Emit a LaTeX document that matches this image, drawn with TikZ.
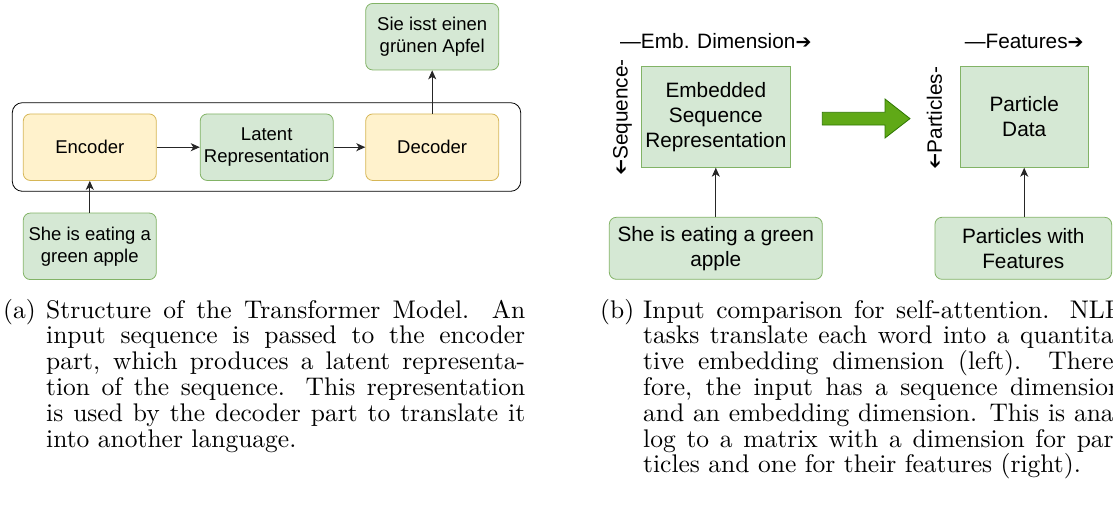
\documentclass[tikz,border=0pt]{standalone}
\usepackage{fontspec}
\newfontfamily\arial{Liberation Sans}
\newfontfamily\dejavu{DejaVu Sans}
\newfontfamily\capfont{lmroman10-regular.otf}
\usetikzlibrary{arrows.meta}
\definecolor{gfill}{HTML}{D5E8D4}
\definecolor{gline}{HTML}{82B366}
\definecolor{yfill}{HTML}{FFF2CC}
\definecolor{yline}{HTML}{D6B656}
\definecolor{afill}{HTML}{60A917}
\definecolor{aline}{HTML}{2D7600}
\newcommand\capfirst[2]{\noindent\hbox to 522pt{\hbox to 43pt{#1\hfil}#2}}
\newcommand\capln[1]{\par\noindent\hspace*{43pt}\hbox to 479pt{#1}}
\newcommand\caplast[1]{\par\noindent\hspace*{43pt}#1}
\newcommand\rarr{{\dejavu\fontsize{19}{19}\selectfont ➔}}
\begin{document}
\begin{tikzpicture}[x=1pt,y=-1pt,
  box/.style={draw, line width=0.8pt, inner sep=0pt, align=center},
  gbox/.style={box, fill=gfill, draw=gline},
  ybox/.style={box, fill=yfill, draw=yline},
  rbox/.style={rounded corners=7pt},
  lfont/.style={font=\arial\fontsize{18.5}{22}\selectfont},
  rfont/.style={font=\arial\fontsize{20.8}{25}\selectfont},
  lsize/.style={minimum width=133pt, minimum height=66.5pt},
  conn/.style={-{Stealth[length=9pt,width=8pt,inset=2.5pt]}, line width=0.9pt, black!85},
  captext/.style={anchor=base west, inner sep=0pt}
]
\useasboundingbox (0,0) rectangle (1113,520);
\clip (0,0) rectangle (1113,520);

% ---------- left panel ----------
\node[box, draw=black, rounded corners=10pt, minimum width=508.4pt, minimum height=88.6pt] (cont) at (266.5,147) {};
\node[ybox, rbox, lfont, lsize] (enc) at (89.8,147.2) {Encoder};
\node[gbox, rbox, lfont, lsize] (lat) at (266.7,147.2) {Latent\\Representation};
\node[ybox, rbox, lfont, lsize] (dec) at (432.2,147.2) {Decoder};
\node[gbox, rbox, lfont, lsize] (sie) at (432.2,36.7) {Sie isst einen\\grünen Apfel};
\node[gbox, rbox, lfont, lsize] (she) at (89.8,246.3) {She is eating a\\green apple};

\draw[conn] (enc.east) -- (lat.west);
\draw[conn] (lat.east) -- (dec.west);
\draw[conn] (she.north) -- (enc.south);
\draw[conn] (dec.north) -- (sie.south);

% ---------- right panel ----------
\node[gbox, rfont, minimum width=148.3pt, minimum height=100.6pt] (emb) at (715.8,117) {Embedded\\Sequence\\Representation};
\node[gbox, rbox, rfont, minimum width=213pt, minimum height=62pt] (she2) at (715.8,248.3) {She is eating a green\\apple};
\node[gbox, rfont, minimum width=128.3pt, minimum height=100.6pt] (pd) at (1024.2,117) {Particle\\Data};
\node[gbox, rbox, rfont, minimum width=176.7pt, minimum height=62pt] (pwf) at (1023.3,248.3) {Particles with\\Features};

\node[rfont, anchor=base, inner sep=0pt] (embdim) at (715.8,48) {\textemdash Emb. Dimension\rarr};
\node[rfont, anchor=base, inner sep=0pt] (feat) at (1024.2,48) {\textemdash Features\rarr};
\node[rfont, rotate=90, inner sep=0pt] (seq) at (622.5,117.5) {\reflectbox{\rarr}Sequence-};
\node[rfont, rotate=90, inner sep=0pt] (part) at (934.5,118) {\reflectbox{\rarr}Particles-};

\draw[fill=afill, draw=aline, line width=0.8pt] (822.3,112.3) -- (885,112.3) -- (885,99) -- (910,118.6) -- (885,138) -- (885,125) -- (822.3,125) -- cycle;

\draw[conn] (she2.north) -- (emb.south);
\draw[conn] (pd.south |- pwf.north) -- (pd.south);

% ---------- captions ----------
\node[captext] (capa) at (3,318) {\begin{minipage}[t]{522pt}\capfont\fontsize{25.5}{25.8}\selectfont
\capfirst{(a)}{Structure of the Transformer Model. An}
\capln{input sequence is passed to the encoder}
\capln{part, which produces a latent representa-}
\capln{tion of the sequence. This representation}
\capln{is used by the decoder part to translate it}
\caplast{into another language.}
\end{minipage}};

\node[captext] (capb) at (600,318) {\begin{minipage}[t]{522pt}\capfont\fontsize{25.5}{25.8}\selectfont
\capfirst{(b)}{Input comparison for self-attention. NLP}
\capln{tasks translate each word into a quantita-}
\capln{tive embedding dimension (left). There-}
\capln{fore, the input has a sequence dimension}
\capln{and an embedding dimension. This is ana-}
\capln{log to a matrix with a dimension for par-}
\caplast{ticles and one for their features (right).}
\end{minipage}};
\end{tikzpicture}
\end{document}
